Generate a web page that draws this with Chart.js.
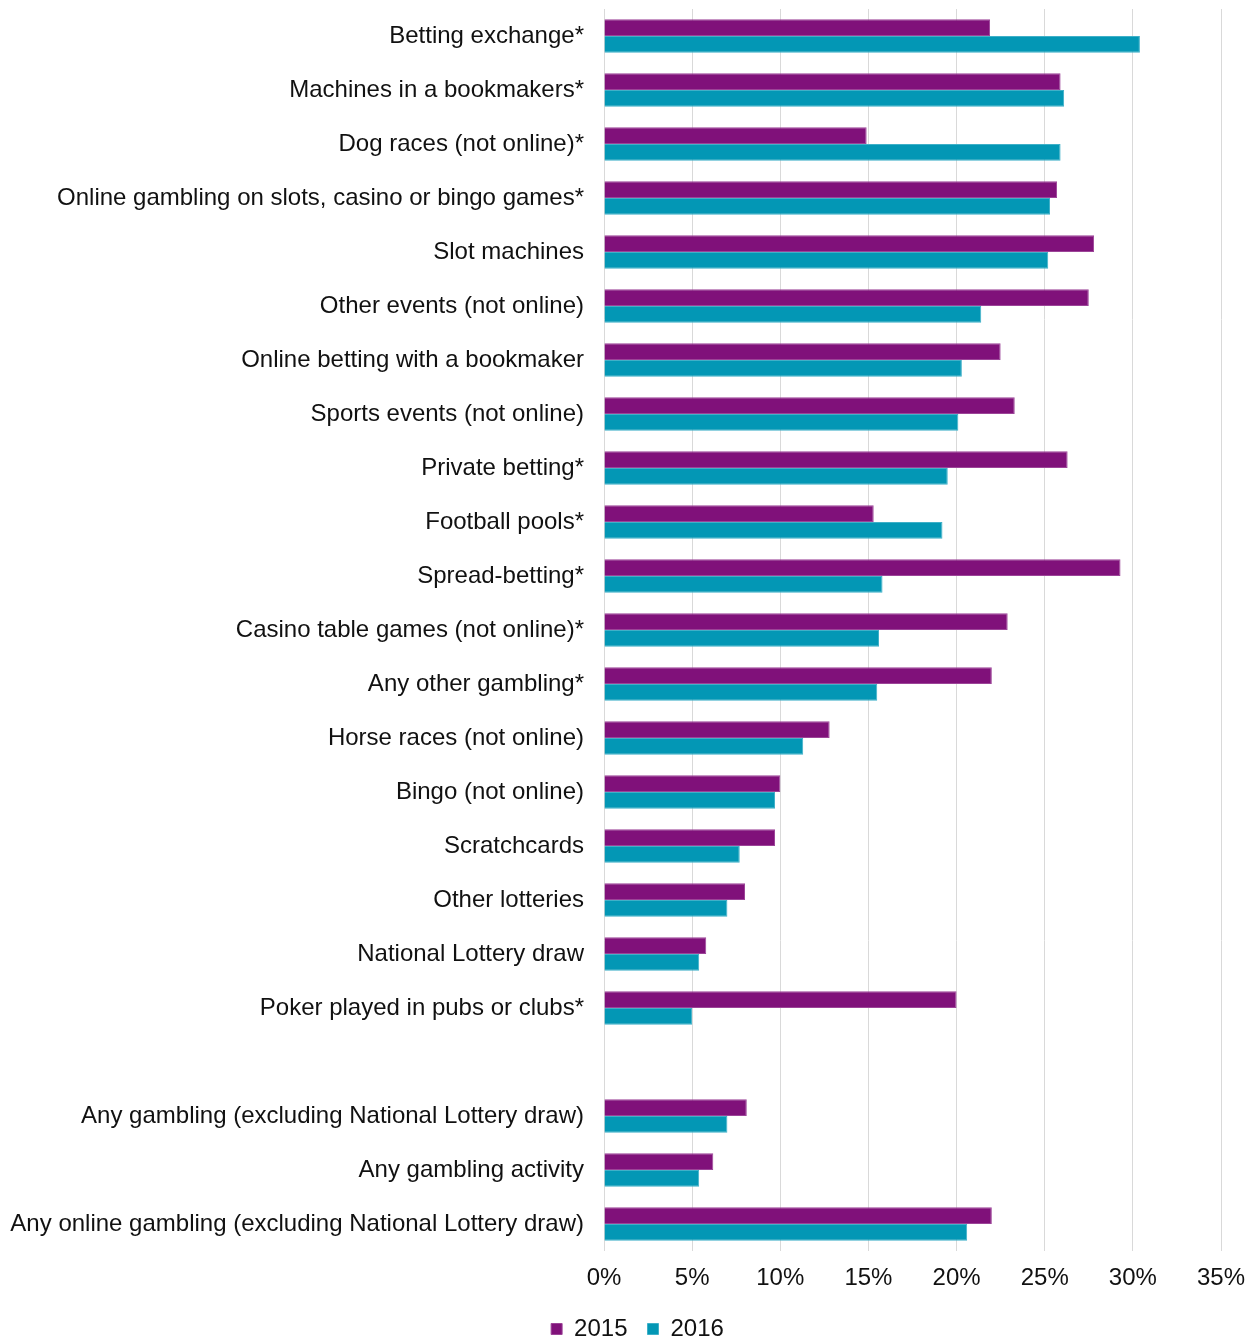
<!DOCTYPE html>
<html>
<head>
<meta charset="utf-8">
<script src="https://cdn.jsdelivr.net/npm/chart.js@4/dist/chart.umd.min.js"></script>
<style>
  html, body { margin: 0; padding: 0; background: #ffffff; }
  #wrap { width: 1254px; height: 1341px; position: relative; }
</style>
</head>
<body>
<div id="wrap"><canvas id="chart"></canvas></div>
<script>
// Gambling activities (an empty row separates the summary measures)
const categories = [
  'Betting exchange*',
  'Machines in a bookmakers*',
  'Dog races (not online)*',
  'Online gambling on slots, casino or bingo games*',
  'Slot machines',
  'Other events (not online)',
  'Online betting with a bookmaker',
  'Sports events (not online)',
  'Private betting*',
  'Football pools*',
  'Spread-betting*',
  'Casino table games (not online)*',
  'Any other gambling*',
  'Horse races (not online)',
  'Bingo (not online)',
  'Scratchcards',
  'Other lotteries',
  'National Lottery draw',
  'Poker played in pubs or clubs*',
  '',
  'Any gambling (excluding National Lottery draw)',
  'Any gambling activity',
  'Any online gambling (excluding National Lottery draw)'
];

// Percentages per year
const values2015 = [21.9, 25.9, 14.9, 25.7, 27.8, 27.5, 22.5, 23.3, 26.3, 15.3, 29.3, 22.9, 22.0, 12.8, 10.0, 9.7, 8.0, 5.8, 20.0, null, 8.1, 6.2, 22.0];
const values2016 = [30.4, 26.1, 25.9, 25.3, 25.2, 21.4, 20.3, 20.1, 19.5, 19.2, 15.8, 15.6, 15.5, 11.3, 9.7, 7.7, 7.0, 5.4, 5.0, null, 7.0, 5.4, 20.6];

const seriesLabels = ['2015', '2016'];
const xTicks = [0, 5, 10, 15, 20, 25, 30, 35];

const PURPLE = '#80117a';
const TEAL = '#0397b5';
const TEXT = '#111111';
const FONT = { family: '"Liberation Sans", Arial, sans-serif', size: 24 };

// Nudges the legend row to the right so it sits under the middle of the page
const legendShift = {
  id: 'legendShift',
  afterLayout(chart) {
    const lg = chart.legend;
    if (lg) { lg.left += 27; lg.right += 27; }
  }
};

new Chart(document.getElementById('chart'), {
  type: 'bar',
  data: {
    labels: categories,
    datasets: [
      {
        label: seriesLabels[0],
        data: values2015,
        backgroundColor: PURPLE,
        borderColor: '#9c4498',
        borderWidth: 1,
        categoryPercentage: 0.62,
        barPercentage: 1.0
      },
      {
        label: seriesLabels[1],
        data: values2016,
        backgroundColor: TEAL,
        borderColor: '#3fb0c8',
        borderWidth: 1,
        categoryPercentage: 0.62,
        barPercentage: 1.0
      }
    ]
  },
  options: {
    indexAxis: 'y',
    responsive: true,
    maintainAspectRatio: false,
    animation: false,
    layout: { padding: { top: 9, right: 33, left: 0, bottom: -10 } },
    scales: {
      x: {
        min: 0,
        max: 35,
        afterBuildTicks: (scale) => { scale.ticks = xTicks.map(v => ({ value: v })); },
        afterFit: (scale) => {
          scale.height = 46;
          scale.paddingLeft = 0;
          scale.paddingRight = 0;
        },
        grid: { color: '#d9d9d9', lineWidth: 1, drawTicks: false },
        border: { display: false },
        ticks: {
          padding: 13,
          color: TEXT,
          font: FONT,
          maxRotation: 0,
          callback: (v) => v + '%'
        }
      },
      y: {
        afterFit: (scale) => {
          scale.width = 604;
          scale.paddingTop = 0;
          scale.paddingBottom = 0;
        },
        grid: { display: false, drawTicks: false },
        border: { display: false },
        ticks: {
          padding: 20,
          color: TEXT,
          font: FONT,
          autoSkip: false
        }
      }
    },
    plugins: {
      legend: {
        position: 'bottom',
        labels: {
          color: TEXT,
          font: FONT,
          boxWidth: 11,
          boxHeight: 11,
          padding: 20
        }
      },
      tooltip: { enabled: false }
    }
  },
  plugins: [legendShift]
});
</script>
</body>
</html>
